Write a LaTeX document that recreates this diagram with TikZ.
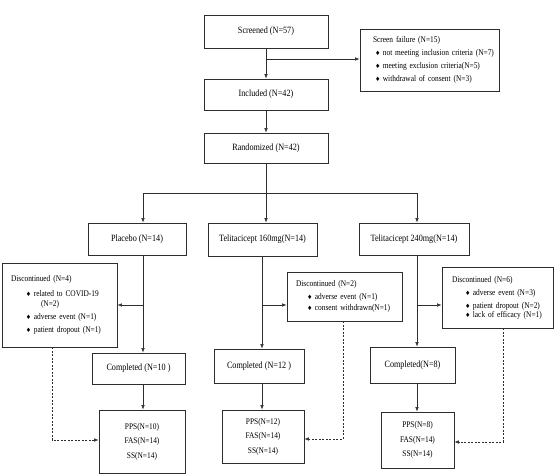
\documentclass[tikz,border=0pt]{standalone}
\usepackage{fontspec}
\setmainfont{Liberation Serif}[FakeStretch=0.85]
\newfontfamily\symfont{DejaVu Sans}
\usepackage{tikz}
\usetikzlibrary{positioning, arrows.meta}
\definecolor{traitgris}{RGB}{45, 45, 45}
\newcommand{\puce}{{\symfont\fontsize{6}{6}\selectfont ♦}\hspace{2.5pt}}

\begin{document}
\begin{tikzpicture}[x=1pt, y=-1pt,
    boite/.style={draw=traitgris, line width=0.8pt, inner sep=2pt, align=center,
        font=\fontsize{9.6}{11}\selectfont},
    liste/.style={draw=traitgris, line width=0.8pt, inner xsep=4pt, inner ysep=0pt,
        align=left, font=\fontsize{8.7}{13}\selectfont},
    analyse/.style={draw=traitgris, line width=0.8pt, inner sep=0pt, align=center,
        font=\fontsize{8.7}{14.5}\selectfont},
    trait/.style={draw=traitgris, line width=0.6pt},
    fleche/.style={trait, -{Latex[length=4.5pt, width=3.5pt]}},
    pointille/.style={fleche, dashed, dash pattern=on 2pt off 1.5pt}]
    \useasboundingbox (0,0) rectangle (555,474);

    % Sélection
    \node[boite, minimum width=124pt, minimum height=33pt] (screened) at (266,31.5) {Screened (N=57)};
    \node[liste, minimum width=139pt, minimum height=62pt, text width=131pt] (failure) at (429.5,60)
        {\hspace*{9pt}Screen failure (N=15)\\
         \hspace*{11pt}\puce not meeting inclusion criteria (N=7)\\
         \hspace*{11pt}\puce meeting exclusion criteria(N=5)\\
         \hspace*{11pt}\puce withdrawal of consent (N=3)};
    \node[boite, minimum width=124pt, minimum height=31pt] (included) at (266,94.5) {Included (N=42)};
    \node[boite, minimum width=124pt, minimum height=30pt] (randomized) at (266,148) {Randomized (N=42)};

    % Bras de traitement
    \node[boite, minimum width=98pt, minimum height=32pt] (placebo) at (137,239) {Placebo (N=14)};
    \node[boite, minimum width=109pt, minimum height=33pt] (dose160) at (262.5,239.5) {Telitacicept 160mg(N=14)};
    \node[boite, minimum width=110pt, minimum height=32pt] (dose240) at (414,239) {Telitacicept 240mg(N=14)};

    % Arrêts
    \node[liste, minimum width=115pt, minimum height=84pt, text width=107pt] (disc1) at (59.5,305)
        {\hspace*{5pt}Discontinued (N=4)\\[2pt]
         \hspace*{20pt}\puce related to COVID-19\\[-3pt]
         \hspace*{35pt}(N=2)\\
         \hspace*{20pt}\puce adverse event (N=1)\\
         \hspace*{20pt}\puce patient dropout (N=1)};
    \node[liste, minimum width=115pt, minimum height=49pt, text width=107pt] (disc2) at (344.5,296.5)
        {\hspace*{5pt}Discontinued (N=2)\\
         \hspace*{16pt}\puce adverse event (N=1)\\[-2pt]
         \hspace*{16pt}\puce consent withdrawn(N=1)};
    \node[liste, minimum width=111pt, minimum height=61pt, text width=103pt] (disc3) at (497.5,297.5)
        {\hspace*{6pt}Discontinued (N=6)\\
         \hspace*{19pt}\puce adverse event (N=3)\\
         \hspace*{19pt}\puce patient dropout (N=2)\\[-4pt]
         \hspace*{19pt}\puce lack of efficacy (N=1)};

    % Fin d'étude
    \node[boite, minimum width=93pt, minimum height=31pt] (comp1) at (138.5,368.5) {Completed (N=10 )};
    \node[boite, minimum width=90pt, minimum height=34pt] (comp2) at (259,366) {Completed (N=12 )};
    \node[boite, minimum width=85pt, minimum height=36pt] (comp3) at (412.5,365) {Completed(N=8)};

    % Populations d'analyse
    \node[analyse, minimum width=86pt, minimum height=63pt] (pps1) at (142,441.5) {PPS(N=10)\\FAS(N=14)\\SS(N=14)};
    \node[analyse, minimum width=82pt, minimum height=53pt] (pps2) at (263,436.5) {PPS(N=12)\\FAS(N=14)\\SS(N=14)};
    \node[analyse, minimum width=73pt, minimum height=56pt] (pps3) at (417.5,440) {PPS(N=8)\\FAS(N=14)\\SS(N=14)};

    % Points de branchement
    \coordinate (echec) at (266,59);
    \coordinate (bras-p) at (143,193);
    \coordinate (bras-b) at (417,193);
    \coordinate (axe-m) at (262,305);
    \coordinate (arret-p) at (143,305);
    \coordinate (arret-b) at (417,305);
    \coordinate (d1) at (52,440);
    \coordinate (d2) at (343,439);
    \coordinate (d3) at (503,442);

    % Flèches du haut
    \draw[fleche] (screened.south) -- (included.north);
    \draw[fleche] (echec) -- (echec -| failure.west);
    \draw[fleche] (included.south) -- (randomized.north);
    \draw[fleche] (randomized.south) -- (randomized.south |- dose160.north);
    \draw[trait] (bras-p) -- (bras-b);
    \draw[fleche] (bras-p) -- (bras-p |- placebo.north);
    \draw[fleche] (bras-b) -- (bras-b |- dose240.north);

    % Flèches des bras
    \draw[fleche] (bras-p |- placebo.south) -- (bras-p |- comp1.north);
    \draw[fleche] (arret-p) -- (arret-p -| disc1.east);
    \draw[fleche] (axe-m |- dose160.south) -- (axe-m |- comp2.north);
    \draw[fleche] (axe-m) -- (axe-m -| disc2.west);
    \draw[fleche] (bras-b |- dose240.south) -- (bras-b |- comp3.north);
    \draw[fleche] (arret-b) -- (arret-b -| disc3.west);

    \draw[fleche] (bras-p |- comp1.south) -- (bras-p |- pps1.north);
    \draw[fleche] (axe-m |- comp2.south) -- (axe-m |- pps2.north);
    \draw[fleche] (bras-b |- comp3.south) -- (bras-b |- pps3.north);

    % Pointillés
    \draw[pointille] (d1 |- disc1.south) -- (d1) -- (d1 -| pps1.west);
    \draw[pointille] (d2 |- disc2.south) -- (d2) -- (d2 -| pps2.east);
    \draw[pointille] (d3 |- disc3.south) -- (d3) -- (d3 -| pps3.east);
\end{tikzpicture}
\end{document}
